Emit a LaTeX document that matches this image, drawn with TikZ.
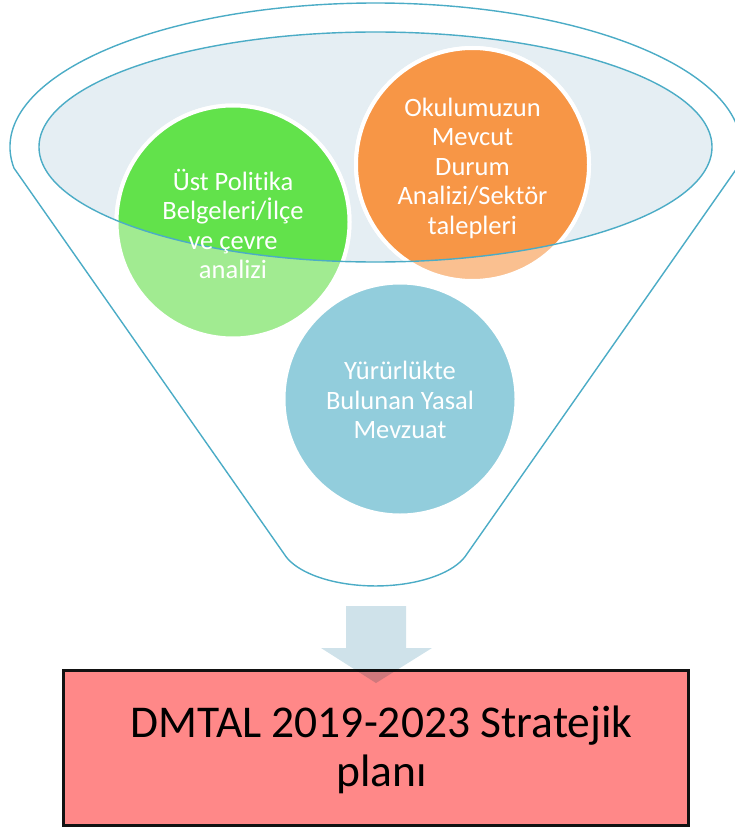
\documentclass[tikz,border=0pt]{standalone}
\usepackage{fontspec}
\setmainfont[Ligatures=NoCommon]{Carlito}
\usetikzlibrary{positioning}
\definecolor{funnelline}{RGB}{75,172,198}
\definecolor{lidfill}{RGB}{229,238,243}
\definecolor{greenfull}{RGB}{98,226,75}
\definecolor{greenpale}{RGB}{161,235,145}
\definecolor{orangefull}{RGB}{247,150,70}
\definecolor{orangepale}{RGB}{250,192,144}
\definecolor{bluedisc}{RGB}{146,205,220}
\definecolor{boxred}{RGB}{255,136,136}
\definecolor{arrowblue}{RGB}{207,226,234}
\begin{document}
\begin{tikzpicture}[x=1pt, y=-1pt,
    funnel/.style={draw=funnelline, line width=1.4pt},
    disc/.style={draw=white, line width=4pt},
    disctext/.style={text=white, align=center, inner sep=0pt, font=\fontsize{26.5}{29.5}\selectfont},
    planbox/.style={draw=black!93, line width=3.4pt, fill=boxred,
      minimum width=624.6pt, minimum height=154.6pt},
    plantext/.style={align=center, inner sep=0pt, font=\fontsize{45.5}{49}\selectfont}]
    \useasboundingbox (0,0) rectangle (734,829);
    % funnel body
    \draw[funnel, fill=white] (375.5,147) ++(171.6:365.5 and 144)
      arc[start angle=171.6, end angle=368.4, x radius=365.5, y radius=144]
      -- (464.8,557.0)
      arc[start angle=20, end angle=160, x radius=95, y radius=44] -- cycle;
    \fill[lidfill] (375.5,147) ellipse[x radius=336.5, y radius=115];
    % discs, pale outside the lid
    \filldraw[disc, fill=greenpale] (233,222) circle[radius=116.5];
    \filldraw[disc, fill=orangepale] (472.5,164.5) circle[radius=116.5];
    \filldraw[disc, fill=bluedisc] (400,399) circle[radius=116.5];
    \begin{scope}
      \clip (375.5,147) ellipse[x radius=336.5, y radius=115];
      \filldraw[disc, fill=greenfull] (233,222) circle[radius=116.5];
      \filldraw[disc, fill=orangefull] (472.5,164.5) circle[radius=116.5];
    \end{scope}
    \draw[funnel] (375.5,147) ellipse[x radius=336.5, y radius=115];
    \node[disctext] (politika) at (233,224) {Üst Politika\\Belgeleri/İlçe\\ve çevre\\analizi};
    \node[disctext] (mevcut) at (472.5,168) {Okulumuzun\\Mevcut\\Durum\\Analizi/Sektör\\talepleri};
    \node[disctext] (mevzuat) at (400,400) {Yürürlükte\\Bulunan Yasal\\Mevzuat};
    % result box and arrow
    \node[planbox] (plan) at (376,748) {};
    \node[plantext] (plantitle) at ([xshift=5.5pt, yshift=-2pt]plan.center) {DMTAL 2019-2023 Stratejik\\planı};
    \fill[arrowblue, blend mode=multiply] (346,606) -- (406,606) -- (406,648) -- (432,648)
      -- (376,683) -- (321,648) -- (346,648) -- cycle;
\end{tikzpicture}
\end{document}
